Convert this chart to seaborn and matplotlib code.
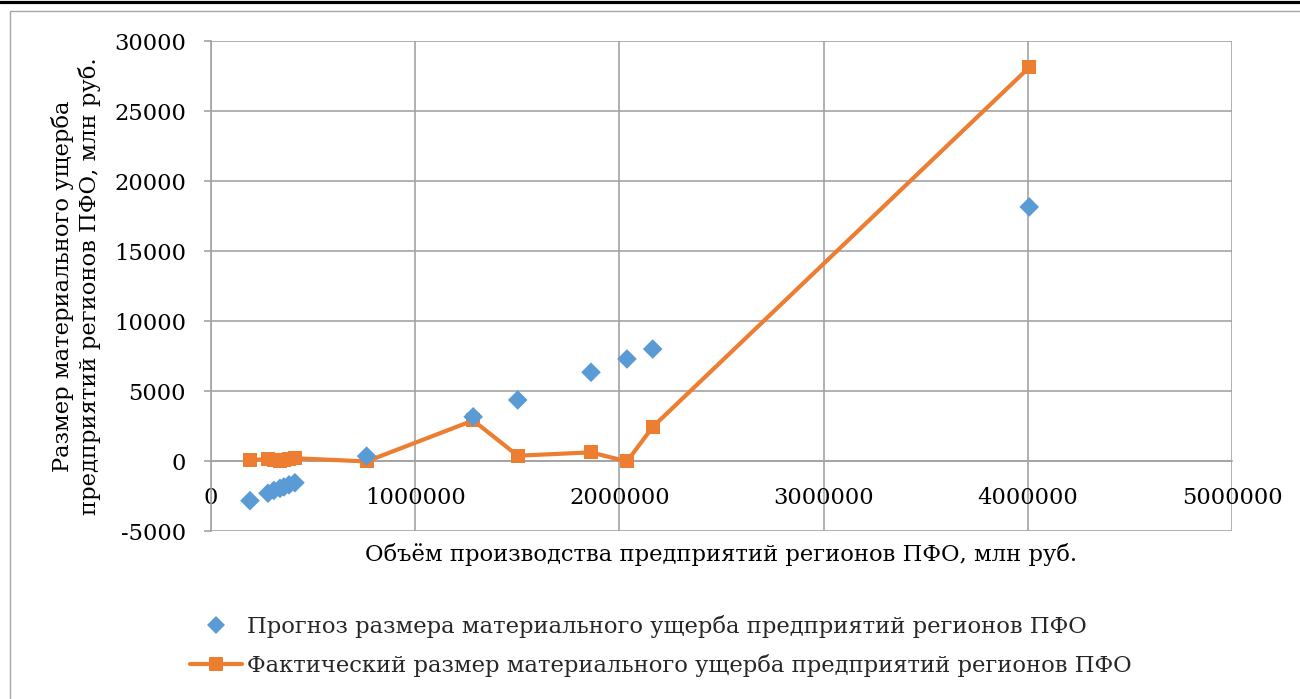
import matplotlib
matplotlib.use("Agg")
import matplotlib.pyplot as plt
from matplotlib.lines import Line2D
from matplotlib.ticker import FuncFormatter, MultipleLocator
import seaborn as sns

# Production volume of PFO regions, mln rub.
production_volume = [191000, 279000, 308000, 338000, 357000, 382000, 411000,
                     762000, 1284000, 1502000, 1861000, 2037000, 2163000, 4007000]
# Forecast of material damage, mln rub.
damage_forecast = [-2830, -2300, -2100, -1950, -1850, -1700, -1550,
                   350, 3160, 4360, 6340, 7290, 8000, 18150]
# Actual material damage, mln rub.
damage_actual = [60, 150, 100, 30, 80, 150, 200,
                 -30, 2900, 380, 620, -30, 2430, 28120]

x_ticks = [0, 1000000, 2000000, 3000000, 4000000, 5000000]
y_ticks = [-5000, 0, 5000, 10000, 15000, 20000, 25000, 30000]

label_forecast = "Прогноз размера материального ущерба предприятий регионов ПФО"
label_actual = "Фактический размер материального ущерба предприятий регионов ПФО"
x_title = "Объём производства предприятий регионов ПФО, млн руб."
y_title = "Размер материального ущерба\nпредприятий регионов ПФО, млн руб."

BLUE = "#5B9BD5"
ORANGE = "#ED7D31"
GRID = "#a3a3a3"
FS = 16.3

sns.set_theme(style="white")
plt.rcParams["font.family"] = ["DejaVu Serif"]
plt.rcParams["axes.unicode_minus"] = False

fig = plt.figure(figsize=(13, 6.99), dpi=100)
ax = fig.add_axes([0.1623, 0.2403, 0.7854, 0.7010])

sns.lineplot(x=production_volume, y=damage_actual, ax=ax, color=ORANGE,
             linewidth=3, marker="s", markersize=10, markeredgewidth=0,
             estimator=None, sort=False, zorder=3)
sns.scatterplot(x=production_volume, y=damage_forecast, ax=ax, marker="D",
                s=100, color=BLUE, edgecolor="none", linewidth=0, zorder=4)

ax.set_xlim(x_ticks[0], x_ticks[-1])
ax.set_ylim(y_ticks[0], y_ticks[-1])
ax.xaxis.set_major_locator(MultipleLocator(1000000))
ax.yaxis.set_major_locator(MultipleLocator(5000))
fmt = FuncFormatter(lambda v, _: f"{int(round(v))}")
ax.xaxis.set_major_formatter(fmt)
ax.yaxis.set_major_formatter(fmt)

ax.grid(True, color=GRID, linewidth=1.2)
ax.set_axisbelow(True)
for side in ("top", "right"):
    ax.spines[side].set_visible(False)
ax.spines["bottom"].set_position(("data", 0))
for side in ("left", "bottom"):
    ax.spines[side].set_color(GRID)
    ax.spines[side].set_linewidth(1.2)

ax.tick_params(axis="y", which="major", direction="out", length=5, width=1.2,
               color=GRID, pad=13, labelsize=FS, labelcolor="black", left=True)
ax.tick_params(axis="x", which="major", direction="out", length=0,
               pad=19, labelsize=FS, labelcolor="black")

ax.set_xlabel(x_title, fontsize=FS, color="black")
ax.xaxis.set_label_coords(0.5, -0.025)
ax.set_ylabel(y_title, fontsize=FS, color="black", linespacing=1.22)
ax.yaxis.set_label_coords(-0.108, 0.5)

handles = [
    Line2D([], [], linestyle="none", marker="D", markersize=9,
           markerfacecolor=BLUE, markeredgewidth=0),
    Line2D([], [], color=ORANGE, linewidth=3, marker="s", markersize=10,
           markeredgewidth=0),
]
fig.legend(handles, [label_forecast, label_actual], loc="center left",
           bbox_to_anchor=(190 / 1300, 1 - 646 / 699), frameon=False,
           fontsize=FS, handlelength=2.3, handletextpad=0.2,
           labelspacing=0.72, borderpad=0, borderaxespad=0)

# Chart frame and the rule above it
fig.add_artist(Line2D([0, 1], [1 - 1.5 / 699, 1 - 1.5 / 699],
                      transform=fig.transFigure, color="black", linewidth=2.3))
fig.add_artist(Line2D([9.5 / 1300, 9.5 / 1300, 1.0], [0.0, 1 - 10.5 / 699, 1 - 10.5 / 699],
                      transform=fig.transFigure, color="#a6a6a6", linewidth=1.0))

fig.savefig("out.png", dpi=100)
